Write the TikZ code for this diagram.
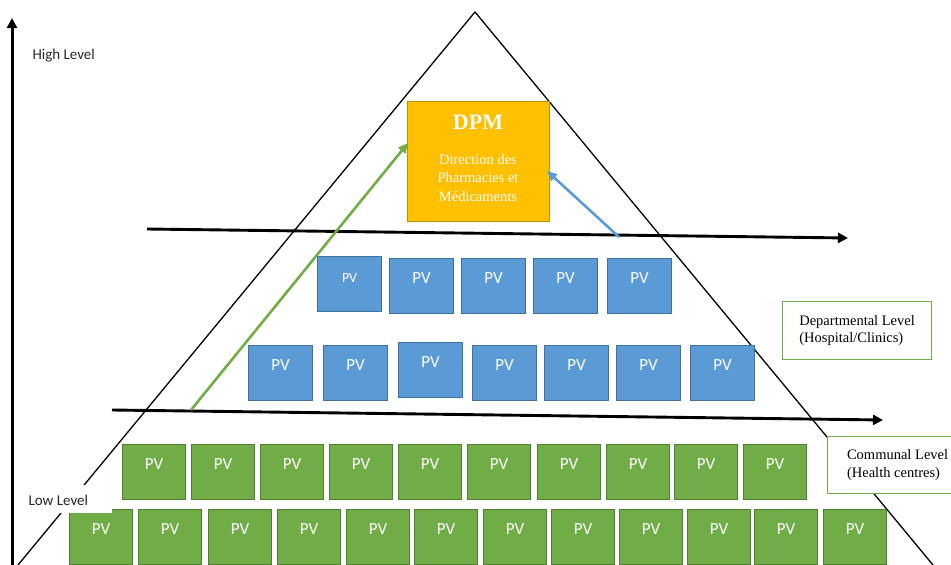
\documentclass[tikz,border=0pt]{standalone}
\usepackage{fontspec}
\setmainfont{Liberation Serif}
\newfontfamily\calibri{Carlito}
\usetikzlibrary{arrows.meta}
\definecolor{bluefill}{HTML}{5B9BD5}
\definecolor{bluebd}{HTML}{41719C}
\definecolor{greenfill}{HTML}{70AD47}
\definecolor{greenbd}{HTML}{507E32}
\definecolor{orfill}{HTML}{FFC000}
\definecolor{orbd}{HTML}{BF9000}
\tikzset{
  pvbox/.style={anchor=north west, inner sep=0pt, line width=1.2pt, text=white,
    minimum height=55pt, text height=12pt, text depth=18pt,
    font=\calibri\fontsize{17}{20}\selectfont},
  pvblue/.style={pvbox, draw=bluebd, fill=bluefill, minimum width=64pt},
  pvgreen/.style={pvbox, draw=greenbd, fill=greenfill, minimum width=63pt},
  bigarrow/.style={line width=2.9pt, -{Triangle[length=10pt,width=10pt]}},
  levelbox/.style={draw=greenfill, line width=1.2pt, fill=white, anchor=north west,
    align=left, font=\fontsize{14.5}{17.5}\selectfont, inner xsep=12pt},
  sidelabel/.style={font=\calibri\fontsize{15}{18}\selectfont, text=black!85}
}
\begin{document}
\begin{tikzpicture}[x=1pt,y=-1pt]
\useasboundingbox (0,0) rectangle (951,565);
% pyramid
\coordinate (apex) at (475,12);
\coordinate (bl) at (18,565);
\coordinate (br) at (933,565);
\draw[line width=1.3pt] (bl) -- (apex) -- (br);
% vertical axis
\coordinate (ax0) at (12,566);
\coordinate (ax1) at (12,18);
\draw[line width=3pt, -{Triangle[length=10pt,width=10pt]}] (ax0) -- (ax1);
\node[sidelabel, anchor=west] (high) at (29,56) {High Level};
% horizontal arrows
\coordinate (h1a) at (147,229);
\coordinate (h1b) at (848,238);
\coordinate (h2a) at (112,410);
\coordinate (h2b) at (883,420);
\draw[bigarrow] (h1a) -- (h1b);
\draw[bigarrow] (h2a) -- (h2b);
% DPM
\node[draw=orbd, fill=orfill, line width=1.2pt, anchor=north west, minimum width=142pt, minimum height=120pt, inner sep=0pt] (dpm) at (407,101) {};
\node[text=white, font=\bfseries\fontsize{22}{24}\selectfont] (dpmt) at (478,122) {DPM};
\node[text=white, align=center, font=\fontsize{14.5}{18.5}\selectfont] (dpmd) at (478,178) {Direction des\\Pharmacies et\\Médicaments};
% blue row 1
\foreach \x/\y [count=\i] in {389/258,461/258,533/258,607/258}{
  \node[pvblue] (b1\i) at (\x,\y) {PV};
}
\node[pvblue, font=\calibri\fontsize{14}{16}\selectfont, text depth=16pt] (b10) at (317,256) {PV};
% blue row 2
\foreach \x/\y [count=\i] in {248/345,323/345,398/342,472/345,544/345,616/345,690/345}{
  \node[pvblue] (b2\i) at (\x,\y) {PV};
}
% green row 1
\foreach \x [count=\i] in {122,191,260,329,398,467,537,606,674,743}{
  \node[pvgreen] (g1\i) at (\x,444) {PV};
}
% green row 2
\foreach \x [count=\i] in {69,138,208,277,346,414,483,551,619,687,754,823}{
  \node[pvgreen] (g2\i) at (\x,509) {PV};
}
% arrows to DPM
\coordinate (gs) at (191,410);
\coordinate (gt) at (408,143);
\coordinate (bs) at (619,237);
\coordinate (bt) at (547,171);
\draw[greenfill, line width=2.6pt, -{Triangle[length=10pt,width=9pt]}] (gs) -- (gt);
\draw[bluefill, line width=2.6pt, -{Triangle[length=10pt,width=9pt]}] (bs) -- (bt);
% low level label
\node[fill=white, anchor=north west, minimum width=87pt, minimum height=28pt, inner sep=0pt] (lowbg) at (25,485) {};
\node[sidelabel, anchor=west] (low) at (25,500) {Low Level};
% side level boxes
\node[levelbox, minimum width=149pt, minimum height=58pt] (dep) at (782,301) {Departmental Level\\(Hospital/Clinics)};
\node[levelbox, minimum width=140pt, minimum height=57pt] (com) at (827,436) {Communal Level\\(Health centres)};
\end{tikzpicture}
\end{document}
